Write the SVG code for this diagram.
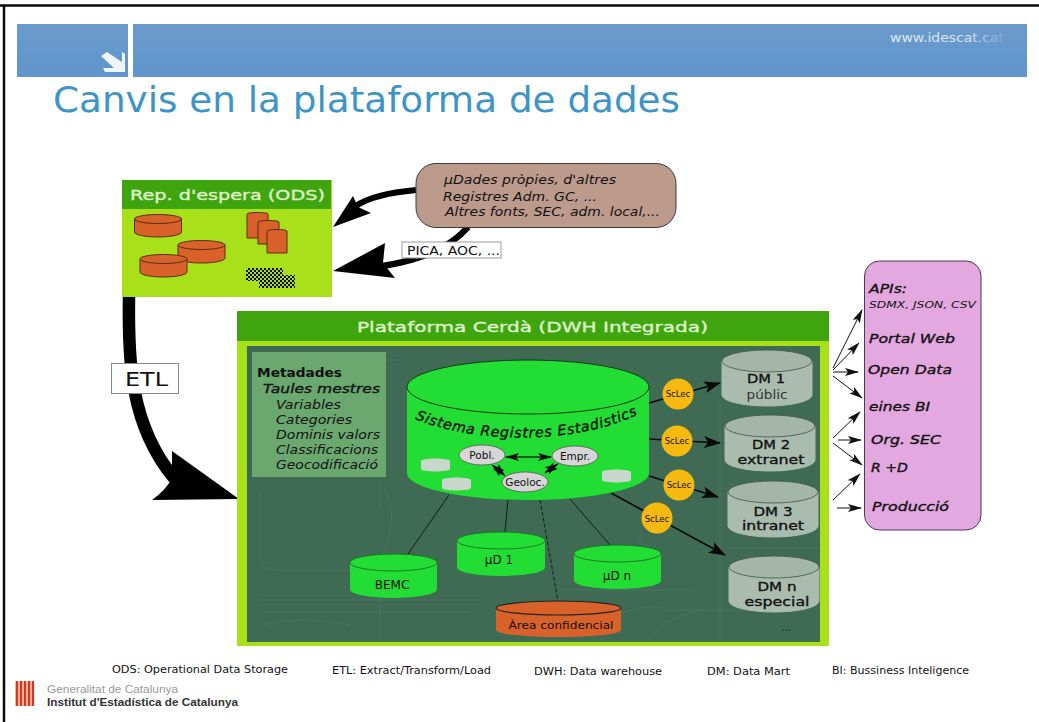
<svg xmlns="http://www.w3.org/2000/svg" width="1039" height="722" viewBox="0 0 1039 722">
<style>
text{font-family:"DejaVu Sans","Liberation Sans",sans-serif;fill:#111}
.i{font-style:italic}
.b{font-weight:bold}
.m{text-anchor:middle}
.w{stroke:#111;stroke-width:.35}
.cg{fill:#22dd33;stroke:#1a7a25;stroke-width:1}
.cgl{fill:#22dd33;stroke:#123d18;stroke-width:1}
.co{fill:#d9622b;stroke:#5a2c10;stroke-width:1}
.cd{fill:#a9bcae;stroke:#a9bcae}
.cdt{fill:#a3b6a9;stroke:#3f5648;stroke-width:.8}
.hd{fill:#d9f2c4;stroke:#e9f8dc;stroke-width:.3}
.thin{fill:none;stroke:#111;stroke-width:1;marker-end:url(#a)}
.tiny{fill:none;stroke:#111;stroke-width:.8;marker-end:url(#a)}
.sc{fill:none;stroke:#0a0a0a;stroke-width:1.6;marker-end:url(#b)}
.ln{fill:none;stroke:#0f2015;stroke-width:1}
.el{fill:#d6d6d6;stroke:#555;stroke-width:.8}
.y{fill:#f5b90f}
.map{fill:none;stroke:#58806a;stroke-width:1;opacity:.45}
.mini{fill:#c9d6cc}
</style>
<defs>
<marker id="a" markerWidth="14" markerHeight="8" refX="13" refY="4" orient="auto" markerUnits="userSpaceOnUse"><path d="M0,0L14,4L0,8L3,4Z" fill="#111"/></marker>
<marker id="b" markerWidth="17" markerHeight="12" refX="16" refY="6" orient="auto" markerUnits="userSpaceOnUse"><path d="M0,0L17,6L0,12L4,6Z" fill="#0a0a0a"/></marker>
<pattern id="ck" width="4" height="4" patternUnits="userSpaceOnUse"><rect width="4" height="4" fill="#a8e01a"/><rect width="2" height="2" fill="#0a0a0a"/><rect x="2" y="2" width="2" height="2" fill="#0a0a0a"/></pattern>
<linearGradient id="fade" x1="0" x2="1" y1="0" y2="0"><stop offset="0" stop-color="#fff" stop-opacity=".8"/><stop offset=".7" stop-color="#fff" stop-opacity=".7"/><stop offset="1" stop-color="#fff" stop-opacity=".1"/></linearGradient>
<linearGradient id="band" x1="0" x2="0" y1="0" y2="1"><stop offset="0" stop-color="#6b9acb"/><stop offset="1" stop-color="#5f96cc"/></linearGradient>
</defs>

<g id="frame"><rect width="1039" height="722" fill="#fff"/><path d="M0,5.500H1039M4,5V722" stroke="#0a0a0a" stroke-width="2.500" fill="none"/></g>

<g id="header">
<rect x="17" y="24" width="111" height="53" fill="url(#band)"/>
<rect x="133" y="24" width="894" height="53" fill="url(#band)"/>
<path d="M101,56L107,52L122,62V52L125,54V72H105L103,68H114Z" fill="#fff" opacity=".9"/>
<text x="890" y="42" font-size="12" style="fill:url(#fade)" textLength="114" lengthAdjust="spacingAndGlyphs">www.idescat.cat</text>
<text x="53" y="112" font-size="36" style="fill:#3d94c8" textLength="627" lengthAdjust="spacingAndGlyphs">Canvis en la plataforma de dades</text>
</g>

<g id="connectors">
<path d="M416,190C395,192 370,196 356,206" fill="none" stroke="#000" stroke-width="6"/>
<path d="M333,227L353,196L358,207L371,213Z" fill="#000"/>
<path d="M468,227C450,248 420,260 383,266" fill="none" stroke="#000" stroke-width="6.500"/>
<path d="M333,271L385,243L383,263L395,278Z" fill="#000"/>
<path d="M129,297C128,360 130,425 174,478" fill="none" stroke="#000" stroke-width="12.500"/>
<path d="M239,499L172,451L172,478Q166,490 152,500Z" fill="#000"/>
</g>

<g id="ods">
<rect x="122" y="180" width="210" height="117" fill="#a8e01a"/>
<rect x="122" y="180" width="209" height="29" fill="#3fa50f"/>
<text class="hd" x="130" y="200" font-size="14" textLength="195" lengthAdjust="spacingAndGlyphs">Rep. d'espera (ODS)</text>
<path class="co" d="M134.500,219V232A23.500,5 0 0 0 181.500,232V219Z"/><ellipse class="co" cx="158" cy="219" rx="23.500" ry="4.500"/>
<path class="co" d="M178,245V258A23.500,5 0 0 0 225,258V245Z"/><ellipse class="co" cx="201.500" cy="245" rx="23.500" ry="4.500"/>
<path class="co" d="M140,259V272A23.500,5 0 0 0 187,272V259Z"/><ellipse class="co" cx="163.500" cy="259" rx="23.500" ry="4.500"/>
<path class="co" d="M247,214V238H268V214A10.500,1.500 0 0 0 247,214Z"/>
<path class="co" d="M258,222V244H279V222A10.500,1.500 0 0 0 258,222Z"/>
<path class="co" d="M267,231V253H287V231A10,1.500 0 0 0 267,231Z"/>
<rect x="246" y="268" width="37" height="13" fill="url(#ck)"/>
<rect x="259" y="275" width="36" height="13" fill="url(#ck)"/>
</g>

<g id="sources">
<rect x="416" y="163.500" width="260" height="64" rx="20" fill="#bc9a8c" stroke="#3a3a3a" stroke-width="1"/>
<text class="i" x="444" y="184" font-size="11.500" textLength="172" lengthAdjust="spacingAndGlyphs">µDades pròpies, d'altres</text>
<text class="i" x="443" y="201" font-size="11.500" textLength="154" lengthAdjust="spacingAndGlyphs">Registres Adm. GC, ...</text>
<text class="i" x="445" y="216" font-size="11.500" textLength="215" lengthAdjust="spacingAndGlyphs">Altres fonts, SEC, adm. local,...</text>
</g>

<g id="label-pica"><rect x="402" y="242" width="99" height="16" fill="#fff" stroke="#999"/><text x="407" y="255" font-size="12" textLength="93" lengthAdjust="spacingAndGlyphs">PICA, AOC, ...</text></g>
<g id="label-etl"><rect x="111.500" y="363.500" width="67" height="30" fill="#fff" stroke="#888"/><text x="125" y="386" font-size="19" textLength="43" lengthAdjust="spacingAndGlyphs">ETL</text></g>

<g id="platform">
<rect x="237" y="311" width="592" height="335" fill="#a8e01a"/>
<rect x="237" y="311" width="592" height="30" fill="#3fa50f"/>
<rect x="247" y="346" width="573" height="296" fill="#3f6b55"/>
<path class="map" d="M260,490V560Q260,570 280,570H370M380,480V510M385,490Q400,520 380,560M260,600H480M260,612H470M260,625Q300,615 350,625M400,360H300M380,560V640M720,400V640M725,548H818M600,620Q660,600 665,610H790M650,640Q660,620 700,610M640,530V560M560,590H690"/>
<text class="hd" x="357" y="332" font-size="14" textLength="351" lengthAdjust="spacingAndGlyphs">Plataforma Cerdà (DWH Integrada)</text>
</g>

<g id="metadata">
<rect x="252" y="352" width="134" height="125" fill="#6aa870"/>
<text class="b" x="257" y="377" font-size="13" textLength="85" lengthAdjust="spacingAndGlyphs">Metadades</text>
<text class="i w" x="263" y="393" font-size="13" textLength="117" lengthAdjust="spacingAndGlyphs">Taules mestres</text>
<text class="i" x="276" y="409" font-size="12" textLength="65" lengthAdjust="spacingAndGlyphs">Variables</text>
<text class="i" x="276" y="424" font-size="12" textLength="76" lengthAdjust="spacingAndGlyphs">Categories</text>
<text class="i" x="276" y="439" font-size="12" textLength="104" lengthAdjust="spacingAndGlyphs">Dominis valors</text>
<text class="i" x="276" y="454" font-size="12" textLength="102" lengthAdjust="spacingAndGlyphs">Classificacions</text>
<text class="i" x="276" y="469" font-size="12" textLength="102" lengthAdjust="spacingAndGlyphs">Geocodificació</text>
</g>

<g id="platform-connectors">
<path class="ln" d="M449,495L408,554M508,499L505,532M570,499L610,545"/>
<path class="ln" d="M540,500L558,601" stroke-dasharray="4 2"/>
<path class="sc" d="M649,403L720,383"/>
<path class="sc" d="M649,439L720,443"/>
<path class="sc" d="M649,476L718,497"/>
<path class="sc" d="M611,493L725,555"/>
</g>

<g id="registry">
<path d="M407,387V473A121,27 0 0 0 649,473V387Z" fill="#22dd33"/>
<ellipse class="cgl" cx="528" cy="387" rx="121" ry="27"/>
<path id="arc" d="M415,419C470,442 570,447 639,414" fill="none"/>
<text class="i" font-size="14" stroke="#111" stroke-width=".4"><textPath href="#arc" textLength="228">Sistema Registres Estadistics</textPath></text>
<path class="mini" d="M421,461V469A14.500,2.500 0 0 0 450,469V461Z"/><ellipse class="mini" cx="435.500" cy="461" rx="14.500" ry="2.500"/>
<path class="mini" d="M442,480V488A14.500,2.500 0 0 0 471,488V480Z"/><ellipse class="mini" cx="456.500" cy="480" rx="14.500" ry="2.500"/>
<path class="mini" d="M602,472V480A14.500,2.500 0 0 0 631,480V472Z"/><ellipse class="mini" cx="616.500" cy="472" rx="14.500" ry="2.500"/>
<path class="tiny" d="M506,457L551,457"/>
<path class="tiny" d="M551,457L506,457"/>
<path class="tiny" d="M495,466L505,476"/><path class="tiny" d="M505,476L492,465"/>
<path class="tiny" d="M545,472L558,464"/><path class="tiny" d="M558,464L545,473"/>
</g>
<g id="pobl"><ellipse class="el" cx="482" cy="455" rx="23" ry="10"/><text class="m" x="482" y="459" font-size="10.500">Pobl.</text></g>
<g id="empr"><ellipse class="el" cx="575" cy="456" rx="23" ry="10"/><text class="m" x="575" y="460" font-size="10.500">Empr.</text></g>
<g id="geoloc"><ellipse class="el" cx="525" cy="482" rx="23" ry="10"/><text class="m" x="525" y="486" font-size="10.500">Geoloc.</text></g>

<g id="bemc"><path d="M350,562.500V589.500A43.500,8.500 0 0 0 437,589.500V562.500Z" fill="#22dd33"/><ellipse class="cg" cx="393.500" cy="562.500" rx="43.500" ry="8.500"/><text class="m" x="392" y="589" font-size="12">BEMC</text></g>
<g id="ud1"><path d="M457,540.500V567.500A44,8.500 0 0 0 545,567.500V540.500Z" fill="#22dd33"/><ellipse class="cg" cx="501" cy="540.500" rx="44" ry="8.500"/><text class="m" x="499" y="564" font-size="12">µD 1</text></g>
<g id="udn"><path d="M574,553.500V580.500A43.500,8.500 0 0 0 661,580.500V553.500Z" fill="#22dd33"/><ellipse class="cg" cx="617.500" cy="553.500" rx="43.500" ry="8.500"/><text class="m" x="617" y="580" font-size="12">µD n</text></g>
<g id="area"><path d="M496,608V630A62.500,7 0 0 0 621,630V608Z" fill="#d9622b"/><ellipse cx="558.500" cy="608" rx="62.500" ry="7" fill="#d9622b" stroke="#222" stroke-width="1.200"/><text class="m" x="561" y="629" font-size="11" textLength="105" lengthAdjust="spacingAndGlyphs">Àrea confidencial</text></g>

<g id="dm1"><path class="cd" d="M722,361V395A45,11 0 0 0 812,395V361Z"/><ellipse class="cdt" cx="767" cy="361" rx="45" ry="11"/><text class="m w" x="766" y="383" font-size="13" textLength="38" lengthAdjust="spacingAndGlyphs">DM 1</text><text class="m" x="767" y="399" font-size="12.500" style="fill:#333" textLength="41" lengthAdjust="spacingAndGlyphs">públic</text></g>
<g id="dm2"><path class="cd" d="M725,426V460A45,11 0 0 0 815,460V426Z"/><ellipse class="cdt" cx="770" cy="426" rx="45" ry="11"/><text class="m w" x="771" y="449" font-size="13" textLength="38" lengthAdjust="spacingAndGlyphs">DM 2</text><text class="m w" x="771" y="464" font-size="13" textLength="67" lengthAdjust="spacingAndGlyphs">extranet</text></g>
<g id="dm3"><path class="cd" d="M728,492V526A45,11 0 0 0 818,526V492Z"/><ellipse class="cdt" cx="773" cy="492" rx="45" ry="11"/><text class="m w" x="773" y="516" font-size="12.500" textLength="39" lengthAdjust="spacingAndGlyphs">DM 3</text><text class="m w" x="773" y="530" font-size="12.500" textLength="62" lengthAdjust="spacingAndGlyphs">intranet</text></g>
<g id="dmn"><path class="cd" d="M729,567V601A45,11 0 0 0 819,601V567Z"/><ellipse class="cdt" cx="774" cy="567" rx="45" ry="11"/><text class="m w" x="777" y="591" font-size="13" textLength="39" lengthAdjust="spacingAndGlyphs">DM n</text><text class="m w" x="777" y="606" font-size="13" textLength="65" lengthAdjust="spacingAndGlyphs">especial</text></g>
<text class="m" x="786" y="631" font-size="10">...</text>

<g id="sclec1"><circle class="y" cx="678" cy="394" r="15.500"/><text class="m" x="678" y="397" font-size="8.500">ScLec</text></g>
<g id="sclec2"><circle class="y" cx="677" cy="441" r="15.500"/><text class="m" x="677" y="444" font-size="8.500">ScLec</text></g>
<g id="sclec3"><circle class="y" cx="679" cy="485" r="15.500"/><text class="m" x="679" y="488" font-size="8.500">ScLec</text></g>
<g id="sclec4"><circle class="y" cx="657" cy="518" r="15.500"/><text class="m" x="657" y="522" font-size="8.500">ScLec</text></g>

<g id="outputs-connectors">
<path class="thin" d="M833,368L862,310"/>
<path class="thin" d="M833,370L859,343"/>
<path class="thin" d="M833,372L858,372"/>
<path class="thin" d="M833,376L862,398"/>
<path class="thin" d="M833,438L860,412"/>
<path class="thin" d="M838,440L861,440"/>
<path class="thin" d="M833,443L862,465"/>
<path class="thin" d="M833,500L860,474"/>
<path class="thin" d="M837,508L861,508"/>
</g>

<g id="outputs">
<rect x="864.500" y="261" width="116.500" height="269" rx="15" fill="#e3a8e0" stroke="#4a3a55"/>
<text class="i w" x="869" y="293" font-size="13" textLength="38" lengthAdjust="spacingAndGlyphs">APIs:</text>
<text class="i" x="869" y="308" font-size="9.500" textLength="107" lengthAdjust="spacingAndGlyphs">SDMX, JSON, CSV</text>
<text class="i w" x="869" y="343" font-size="13" textLength="86" lengthAdjust="spacingAndGlyphs">Portal Web</text>
<text class="i w" x="868" y="374" font-size="13" textLength="84" lengthAdjust="spacingAndGlyphs">Open Data</text>
<text class="i w" x="869" y="411" font-size="13" textLength="61" lengthAdjust="spacingAndGlyphs">eines BI</text>
<text class="i w" x="871" y="444" font-size="13" textLength="70" lengthAdjust="spacingAndGlyphs">Org. SEC</text>
<text class="i w" x="871" y="472" font-size="13" textLength="37" lengthAdjust="spacingAndGlyphs">R +D</text>
<text class="i w" x="872" y="511" font-size="13" textLength="77" lengthAdjust="spacingAndGlyphs">Producció</text>
</g>

<g id="legend">
<text x="112" y="673" font-size="10" textLength="176" lengthAdjust="spacingAndGlyphs">ODS: Operational Data Storage</text>
<text x="332" y="674" font-size="10" textLength="159" lengthAdjust="spacingAndGlyphs">ETL: Extract/Transform/Load</text>
<text x="534" y="675" font-size="10" textLength="128" lengthAdjust="spacingAndGlyphs">DWH: Data warehouse</text>
<text x="707" y="675" font-size="10" textLength="83" lengthAdjust="spacingAndGlyphs">DM: Data Mart</text>
<text x="832" y="674" font-size="10" textLength="137" lengthAdjust="spacingAndGlyphs">BI: Bussiness Inteligence</text>
</g>

<g id="logo">
<rect x="15" y="681" width="19" height="25" fill="#f0c8a0"/>
<path d="M17,681V706M21,681V706M25,681V706M29,681V706M33,681V706" stroke="#d8332a" stroke-width="2.200"/>
<text x="47" y="693" font-size="10" style="fill:#999;font-family:'Liberation Sans',sans-serif" textLength="131" lengthAdjust="spacingAndGlyphs">Generalitat de Catalunya</text>
<text class="b" x="47" y="706" font-size="10" style="fill:#333;font-family:'Liberation Sans',sans-serif" textLength="191" lengthAdjust="spacingAndGlyphs">Institut d'Estadística de Catalunya</text>
</g>
</svg>
